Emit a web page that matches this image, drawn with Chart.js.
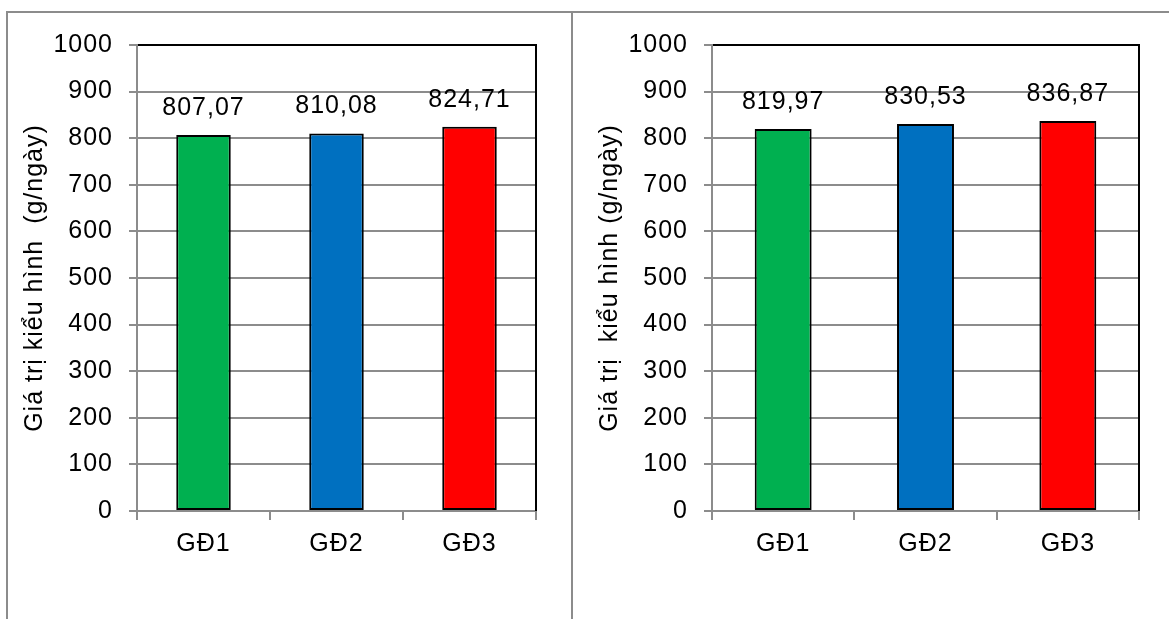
<!DOCTYPE html>
<html>
<head>
<meta charset="utf-8">
<script src="https://cdn.jsdelivr.net/npm/chart.js@4/dist/chart.umd.min.js"></script>
<style>
  html, body { margin: 0; padding: 0; background: #fff; }
  body { width: 1169px; height: 619px; position: relative; overflow: hidden; }
  .rule { position: absolute; background: #8c8c8c; }
  canvas { position: absolute; }
</style>
</head>
<body>
<div class="rule" style="left:6px; top:11px; width:1163px; height:2px;"></div>
<div class="rule" style="left:6px; top:11px; width:2px; height:608px;"></div>
<div class="rule" style="left:571px; top:11px; width:2px; height:608px;"></div>
<canvas id="left" width="562" height="605" style="left:9px; top:14px;"></canvas>
<canvas id="right" width="595" height="605" style="left:574px; top:14px;"></canvas>
<script>
// Categories, series and axis settings
const categories = ['GĐ1', 'GĐ2', 'GĐ3'];
const valuesLeft = [807.07, 810.08, 824.71];
const valuesRight = [819.97, 830.53, 836.87];
const barColors = ['#00B050', '#0070C0', '#FF0000'];
const yMin = 0;
const yMax = 1000;
const yStep = 100;
const titleLeft = 'Giá trị kiểu hình  (g/ngày)';
const titleRight = 'Giá trị  kiểu hình (g/ngày)';

const FONT = '"Liberation Sans", Arial, sans-serif';
const GRAY = '#8c8c8c';
Chart.defaults.font.family = FONT;
Chart.defaults.color = '#000';

// slightly wider text tracking, like the office renderer
const tracking = {
  id: 'tracking',
  beforeUpdate(c) { c.ctx.letterSpacing = '1px'; },
  beforeLayout(c) { c.ctx.letterSpacing = '1px'; },
  beforeDraw(c) { c.ctx.letterSpacing = '1px'; }
};

// value labels above each bar, decimal comma
const valueLabels = {
  id: 'valueLabels',
  afterDatasetsDraw(c) {
    const ctx = c.ctx;
    const meta = c.getDatasetMeta(0);
    const data = c.data.datasets[0].data;
    ctx.save();
    ctx.font = '25px ' + FONT;
    ctx.fillStyle = '#000';
    ctx.textAlign = 'center';
    ctx.textBaseline = 'middle';
    meta.data.forEach((bar, i) => {
      const txt = data[i].toFixed(2).replace('.', ',');
      ctx.fillText(txt, bar.x, bar.y - 27);
    });
    ctx.restore();
  }
};

// black frame on the right side of the plot area
const rightEdge = {
  id: 'rightEdge',
  afterDatasetsDraw(c) {
    const a = c.chartArea;
    const ctx = c.ctx;
    ctx.save();
    ctx.strokeStyle = '#000';
    ctx.lineWidth = 2;
    ctx.beginPath();
    ctx.moveTo(Math.round(a.right), a.top - 1);
    ctx.lineTo(Math.round(a.right), a.bottom);
    ctx.stroke();
    ctx.restore();
  }
};

function makeChart(id, values, title, opts) {
  return new Chart(document.getElementById(id), {
    type: 'bar',
    data: {
      labels: categories,
      datasets: [{
        data: values,
        backgroundColor: barColors,
        borderColor: '#000',
        borderWidth: 2,
        borderSkipped: false,
        barPercentage: opts.barPct,
        categoryPercentage: 1
      }]
    },
    options: {
      responsive: false,
      animation: false,
      devicePixelRatio: 1,
      layout: { padding: { top: 30, right: opts.padRight, bottom: 0, left: 0 } },
      plugins: { legend: { display: false }, tooltip: { enabled: false } },
      scales: {
        x: {
          afterFit(s) { s.height = 108; },
          grid: {
            offset: true,
            drawOnChartArea: false,
            drawTicks: true,
            tickLength: 9,
            color: GRAY,
            lineWidth: 2
          },
          border: { color: GRAY, width: 2 },
          ticks: { font: { size: 25 }, color: '#000', padding: 9 }
        },
        y: {
          min: yMin,
          max: yMax,
          afterFit(s) { s.width = opts.axisLeft; },
          ticks: {
            stepSize: yStep,
            font: { size: 25 },
            color: '#000',
            padding: 16,
            callback: (v) => String(v)
          },
          grid: {
            color: (ctx) => (ctx.tick && ctx.tick.value === yMax ? '#000' : GRAY),
            tickColor: GRAY,
            lineWidth: 2,
            tickLength: 8
          },
          border: { color: GRAY, width: 2 },
          title: {
            display: true,
            text: title,
            font: { size: 25 },
            color: '#000',
            padding: { top: opts.titlePad, bottom: 0 }
          }
        }
      }
    },
    plugins: [tracking, valueLabels, rightEdge]
  });
}

makeChart('left', valuesLeft, titleLeft, { axisLeft: 128, padRight: 35, barPct: 0.41, titlePad: 11 });
makeChart('right', valuesRight, titleRight, { axisLeft: 138, padRight: 30, barPct: 0.40, titlePad: 21 });
</script>
</body>
</html>
